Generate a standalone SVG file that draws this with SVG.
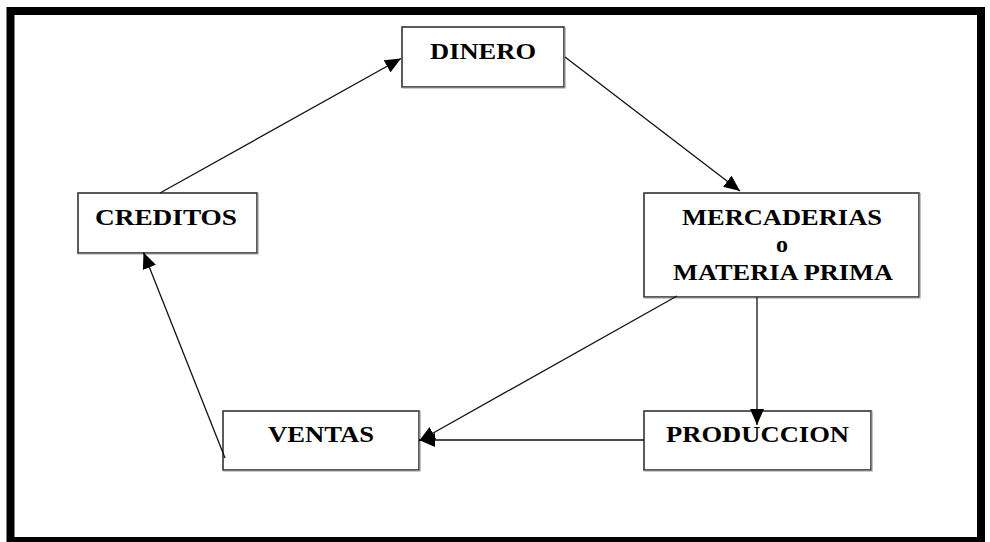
<svg xmlns="http://www.w3.org/2000/svg" width="990" height="542" viewBox="0 0 990 542">
<style>
.box{fill:#fff;stroke:#333;stroke-width:1.6}
.sh{fill:none;stroke:#999;stroke-width:1.2}
.t{font-family:"Liberation Serif","Times New Roman",serif;font-weight:bold;font-size:24px;fill:#000;text-anchor:middle}
.c{stroke:#111;stroke-width:1.3;fill:none}
</style>
<defs>
<marker id="ah" markerUnits="userSpaceOnUse" markerWidth="18" markerHeight="14" refX="16" refY="7" orient="auto">
<path d="M0,0 L16,7 L0,14 Z" fill="#000"/>
</marker>
</defs>
<rect width="990" height="542" fill="#fff"/>
<rect x="10.5" y="11" width="970.5" height="530" fill="none" stroke="#000" stroke-width="8"/>
<g id="dinero">
<rect class="box" x="402" y="27" width="162" height="60"/>
<path class="sh" d="M402,88 H565 V27"/>
<text class="t" x="483" y="59" textLength="106" lengthAdjust="spacingAndGlyphs">DINERO</text>
</g>
<g id="creditos">
<rect class="box" x="78" y="193" width="179" height="60"/>
<path class="sh" d="M78,254 H258 V193"/>
<text class="t" x="166" y="225" textLength="142" lengthAdjust="spacingAndGlyphs">CREDITOS</text>
</g>
<g id="mercaderias">
<rect class="box" x="644" y="193" width="275" height="104"/>
<path class="sh" d="M644,298 H920 V193"/>
<text class="t" x="782" y="225" textLength="200" lengthAdjust="spacingAndGlyphs">MERCADERIAS</text>
<text class="t" x="782" y="252">o</text>
<text class="t" x="783" y="280" textLength="220" lengthAdjust="spacingAndGlyphs">MATERIA PRIMA</text>
</g>
<g id="ventas">
<rect class="box" x="223" y="411" width="196" height="59"/>
<path class="sh" d="M223,471 H420 V411"/>
<text class="t" x="321" y="442" textLength="106" lengthAdjust="spacingAndGlyphs">VENTAS</text>
</g>
<g id="produccion">
<rect class="box" x="644" y="411" width="227" height="59"/>
<path class="sh" d="M644,471 H872 V411"/>
<text class="t" x="757.5" y="442" textLength="183" lengthAdjust="spacingAndGlyphs">PRODUCCION</text>
</g>
<g id="connectors">
<line class="c" x1="160" y1="193" x2="401" y2="58.5" marker-end="url(#ah)"/>
<line class="c" x1="565" y1="57" x2="740" y2="191" marker-end="url(#ah)"/>
<line class="c" x1="757" y1="297" x2="757" y2="425" marker-end="url(#ah)"/>
<line class="c" x1="677" y1="296" x2="419" y2="441" marker-end="url(#ah)"/>
<line class="c" x1="644" y1="440" x2="419" y2="440" marker-end="url(#ah)"/>
<line class="c" x1="225" y1="458" x2="143.5" y2="252.5" marker-end="url(#ah)"/>
</g>
</svg>
